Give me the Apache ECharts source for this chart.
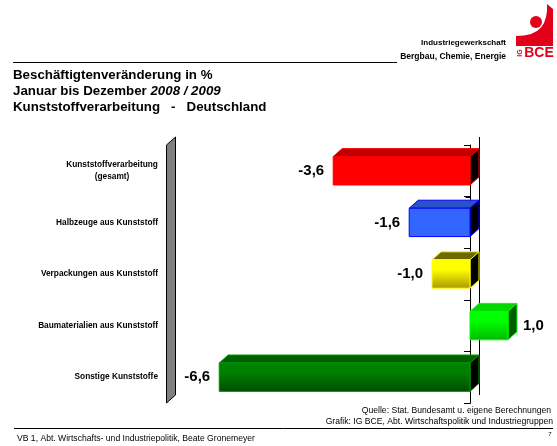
<!DOCTYPE html>
<html>
<head>
<meta charset="utf-8">
<script src="https://cdn.jsdelivr.net/npm/echarts@6/dist/echarts.min.js"></script>
<style>
  html, body { margin: 0; padding: 0; background: #fff; }
  #chart { width: 557px; height: 446px; }
</style>
</head>
<body>
<div id="chart"></div>
<script>
// Beschäftigtenveränderung Kunststoffverarbeitung 2008/2009 (IG BCE)
const CATEGORIES = [
  'Kunststoffverarbeitung\n(gesamt)',
  'Halbzeuge aus Kunststoff',
  'Verpackungen aus Kunststoff',
  'Baumaterialien aus Kunststoff',
  'Sonstige Kunststoffe',
];
const VALUES = [-3.6, -1.6, -1.0, 1.0, -6.6];
const X_MIN = -8;
const X_MAX = 2;

const FONT = 'Liberation Sans, Arial, sans-serif';
const RED = '#E2001A';
const DX = 9;    // profundidad 3D
const DY = -8;

// colores por barra: frente (degradado), tapa, lado, borde
const BAR_STYLES = [
  { front: ['#FF0000', '#FF0000'], top: '#C00000', side: '#000000', border: '#FF0000' },
  { front: ['#3366FF', '#3366FF'], top: '#2B50C8', side: '#000000', border: '#0000FF' },
  { front: ['#FFFF00', '#A89800'], top: '#6E6800', side: '#000000', border: '#FFFF00' },
  { front: ['#00FF00', '#00B800'], top: '#00D800', side: '#005C00', border: '#00FF00' },
  { front: ['#008000', '#004C00'], top: '#006000', side: '#000000', border: '#009A00' },
];

const fmt = v => v.toFixed(1).replace('.', ',');

function grad(c) {
  return new echarts.graphic.LinearGradient(0, 0, 0, 1, [
    { offset: 0, color: c[0] },
    { offset: 0.35, color: c[0] },
    { offset: 1, color: c[1] },
  ]);
}

// pared gris (suelo) + eje en cero con marcas
function renderFrame(params, api) {
  const n = CATEGORIES.length;
  const band = api.size([0, 1])[1];
  const top = api.coord([X_MIN, 0])[1] - band / 2;
  const bot = top + band * n;
  const xw = Math.round(api.coord([X_MIN, 0])[0]) + 0.5;
  const x0 = Math.round(api.coord([0, 0])[0]) + 0.5;
  const line = { stroke: '#000', lineWidth: 1 };
  const children = [
    {
      type: 'polygon',
      shape: { points: [[xw, top], [xw + DX, top + DY], [xw + DX, bot + DY], [xw, bot]] },
      style: { fill: '#808080', stroke: '#000', lineWidth: 1 },
    },
    { type: 'line', shape: { x1: x0 + DX, y1: top + DY, x2: x0 + DX, y2: bot + DY }, style: line },
    { type: 'line', shape: { x1: x0, y1: top, x2: x0, y2: bot }, style: line },
  ];
  for (let k = 0; k <= n; k++) {
    const y = Math.round(top + k * band) + 0.5;
    children.push({ type: 'line', shape: { x1: x0 - 5, y1: y, x2: x0, y2: y }, style: line });
  }
  return { type: 'group', children };
}

function renderBar(params, api) {
  const s = BAR_STYLES[params.dataIndex];
  const v = api.value(0);
  const c = api.value(1);
  const p0 = api.coord([0, c]);
  const p1 = api.coord([v, c]);
  const h = api.size([0, 1])[1] * 0.55;
  const xl = Math.min(p0[0], p1[0]);
  const xr = Math.max(p0[0], p1[0]);
  const yt = p0[1] - h / 2;
  const yb = yt + h;
  return {
    type: 'group',
    children: [
      {
        type: 'polygon',
        shape: { points: [[xl, yt], [xl + DX, yt + DY], [xr + DX, yt + DY], [xr, yt]] },
        style: { fill: s.top, stroke: s.border, lineWidth: 1 },
      },
      {
        type: 'polygon',
        shape: { points: [[xr, yt], [xr + DX, yt + DY], [xr + DX, yb + DY], [xr, yb]] },
        style: { fill: s.side, stroke: s.border, lineWidth: 1 },
      },
      {
        type: 'rect',
        shape: { x: xl, y: yt, width: xr - xl, height: h },
        style: { fill: grad(s.front), stroke: s.border, lineWidth: 1 },
      },
      {
        type: 'text',
        style: {
          text: fmt(v),
          x: v < 0 ? xl - 9 : xr + DX + 6,
          y: p0[1],
          align: v < 0 ? 'right' : 'left',
          verticalAlign: 'middle',
          font: `bold 15px ${FONT}`,
          fill: '#000',
        },
      },
    ],
  };
}

const chart = echarts.init(document.getElementById('chart'), null, { renderer: 'canvas' });

const txt = (text, x, y, font, align = 'left', fill = '#000') => ({
  type: 'text', x, y,
  style: { text, font: `${font} ${FONT}`, fill, align, verticalAlign: 'middle' },
});

// silueta del logo (brazo levantado)
const LOGO_BODY = [
  [516, 46], [516, 36], [524, 35.5], [531, 34], [537, 31], [541, 27.5],
  [544, 23], [546, 17], [547, 11], [547, 4], [553, 9], [553, 46],
];

chart.setOption({
  animation: false,
  backgroundColor: '#fff',
  grid: { left: 166, right: 11, top: 145, bottom: 43, containLabel: false },
  xAxis: { type: 'value', min: X_MIN, max: X_MAX, show: false },
  yAxis: {
    type: 'category',
    data: CATEGORIES,
    inverse: true,
    axisLine: { show: true, lineStyle: { color: '#000' } },
    axisTick: { show: true, length: 6, lineStyle: { color: '#000' } },
    splitLine: { show: false },
    axisLabel: {
      margin: 8,
      color: '#000',
      fontFamily: FONT,
      fontWeight: 'bold',
      fontSize: 8.3,
      lineHeight: 12,
      formatter: v => v.includes('\n') ? v.split('\n').map(s => `{c|${s}}`).join('\n') : v,
      rich: {
        c: { width: 92, align: 'center', fontFamily: FONT, fontWeight: 'bold', fontSize: 8.3, lineHeight: 12, color: '#000' },
      },
    },
  },
  graphic: [
    // cabecera
    { type: 'line', shape: { x1: 13, y1: 62.5, x2: 397, y2: 62.5 }, style: { stroke: '#000', lineWidth: 1 } },
    txt('Industriegewerkschaft', 506, 43, 'bold 8px', 'right'),
    txt('Bergbau, Chemie, Energie', 506, 57, 'bold 8.5px', 'right'),
    { type: 'polygon', shape: { points: LOGO_BODY }, style: { fill: RED } },
    { type: 'circle', shape: { cx: 536, cy: 22, r: 6 }, style: { fill: RED } },
    txt('BCE', 539, 53, 'bold 14px', 'center', RED),
    { type: 'text', x: 520, y: 53, rotation: Math.PI / 2,
      style: { text: 'IG', font: `bold 7px ${FONT}`, fill: RED, align: 'center', verticalAlign: 'middle' } },
    // título
    txt('Beschäftigtenveränderung in %', 13, 75, 'bold 13.3px'),
    { type: 'text', x: 13, y: 91,
      style: {
        text: '{b|Januar bis Dezember }{i|2008 / 2009}',
        verticalAlign: 'middle',
        rich: {
          b: { font: `bold 13.3px ${FONT}`, fill: '#000' },
          i: { font: `italic bold 13.3px ${FONT}`, fill: '#000' },
        },
      } },
    txt('Kunststoffverarbeitung   -   Deutschland', 13, 107, 'bold 13.3px'),
    // pie
    txt('Quelle: Stat. Bundesamt u. eigene Berechnungen', 551, 411, '8.6px', 'right'),
    txt('Grafik: IG BCE, Abt. Wirtschaftspolitik und Industriegruppen', 553, 422, '8.6px', 'right'),
    { type: 'line', shape: { x1: 14, y1: 428.5, x2: 553, y2: 428.5 }, style: { stroke: '#000', lineWidth: 1 } },
    txt('VB 1, Abt. Wirtschafts- und Industriepolitik, Beate Gronemeyer', 17, 439, '8.6px'),
    txt('7', 550, 434, '6px', 'center'),
  ],
  series: [
    {
      type: 'custom',
      renderItem: renderFrame,
      data: [[X_MIN, 0]],
      clip: false,
      silent: true,
      z: 1,
    },
    {
      type: 'custom',
      renderItem: renderBar,
      data: VALUES.map((v, i) => [v, i]),
      clip: false,
      z: 2,
    },
  ],
});
</script>
</body>
</html>
